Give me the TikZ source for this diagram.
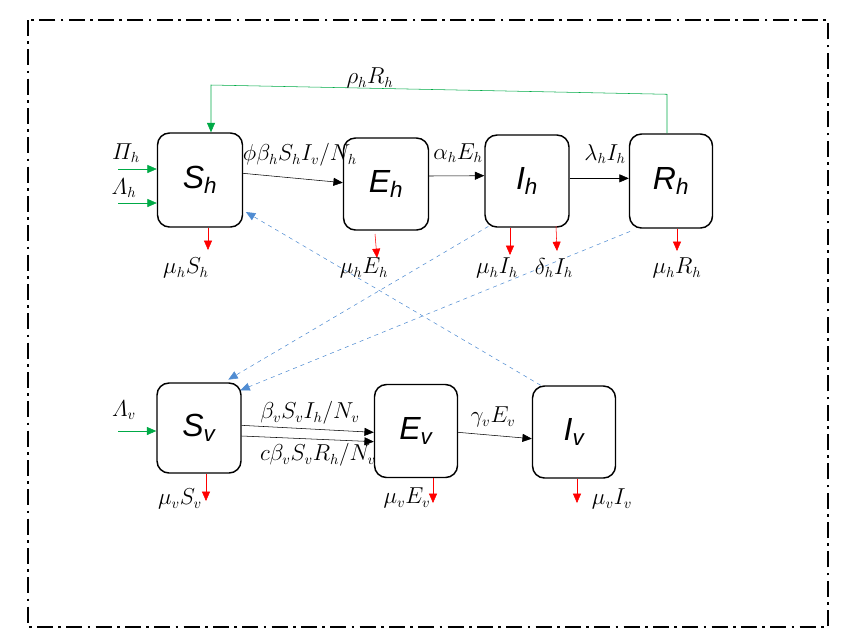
\documentclass[tikz,border=0pt]{standalone}
\usepackage{amsmath}
\usepackage{fontspec}
\newfontfamily\boxfont{Liberation Sans}
\usetikzlibrary{positioning,arrows.meta,calc}
\definecolor{mygreen}{RGB}{0,170,70}
\definecolor{myred}{RGB}{255,0,0}
\definecolor{myblue}{RGB}{80,140,210}

\begin{document}
\begin{tikzpicture}[x=0.75pt,y=-0.75pt,
  comp/.style={draw,line width=1.1pt,rounded corners=9pt,inner sep=0pt,
    font=\boxfont\fontsize{24}{28}\selectfont\itshape},
  lbl/.style={font=\fontsize{16}{18}\selectfont},
  flow/.style={-{Triangle[length=7pt,width=6pt]}},
  inflow/.style={flow,mygreen},
  death/.style={flow,myred},
  bite/.style={-{Triangle[length=7pt,width=6pt]},myblue,dashed}]

  \useasboundingbox (0,0) rectangle (845,637);
  \draw[line width=1.5pt,dash pattern=on 12pt off 4pt on 2pt off 4pt] (28,20) rectangle (828,627);

  % host compartments
  \node[comp,minimum width=85*0.75pt,minimum height=94*0.75pt] (Sh) at (200,180) {S\textsubscript{h}};
  \node[comp,minimum width=85*0.75pt,minimum height=92*0.75pt] (Eh) at (386,184) {E\textsubscript{h}};
  \node[comp,minimum width=84*0.75pt,minimum height=92*0.75pt] (Ih) at (527,181) {I\textsubscript{h}};
  \node[comp,minimum width=83*0.75pt,minimum height=94*0.75pt] (Rh) at (671,181) {R\textsubscript{h}};

  % vector compartments
  \node[comp,minimum width=84*0.75pt,minimum height=90*0.75pt] (Sv) at (199,428) {S\textsubscript{v}};
  \node[comp,minimum width=83*0.75pt,minimum height=93*0.75pt] (Ev) at (416,431) {E\textsubscript{v}};
  \node[comp,minimum width=83*0.75pt,minimum height=92*0.75pt] (Iv) at (574,432) {I\textsubscript{v}};

  % free ends
  \coordinate (PIh) at (118,169);
  \coordinate (LAh) at (118,203);
  \coordinate (LAv) at (118,431);
  \coordinate (dSh) at (208,250);
  \coordinate (dEh) at (377,258);
  \coordinate (dIh) at (510,255);
  \coordinate (gIh) at (557,251);
  \coordinate (dRh) at (677,251);
  \coordinate (dSv) at (206,501);
  \coordinate (dEv) at (433,503);
  \coordinate (dIv) at (577,503);

  % host flows
  \draw[flow] ([yshift=5pt]Sh.east) -- ([yshift=1pt]Eh.west);
  \draw[flow] ([yshift=6pt]Eh.east) -- ([yshift=4pt]Ih.west);
  \draw[flow] ([yshift=2pt]Ih.east) -- ([yshift=2pt]Rh.west);
  \draw[mygreen,-{Triangle[length=7pt,width=6pt]}] ([xshift=-3pt]Rh.north) -- ++(0,-39) -- (211,85) -- (Sh.north -| 211,85);
  \draw[inflow] (PIh) -- (PIh -| Sh.west);
  \draw[inflow] (LAh) -- (LAh -| Sh.west);
  \draw[death] (Sh.south -| dSh) -- (dSh);
  \draw[death] (375,234) -- (dEh);
  \draw[death] (Ih.south -| dIh) -- (dIh);
  \draw[death] (556,226) -- (gIh);
  \draw[death] (Rh.south -| dRh) -- (dRh);

  % vector flows
  \draw[flow] ([yshift=2pt]Sv.east) -- ([yshift=-1pt]Ev.west);
  \draw[flow] ([yshift=-6pt]Sv.east) -- ([yshift=-8pt]Ev.west);
  \draw[flow] ([yshift=-1pt]Ev.east) -- ([yshift=-5pt]Iv.west);
  \draw[inflow] (LAv) -- (LAv -| Sv.west);
  \draw[death] (Sv.south -| dSv) -- (dSv);
  \draw[death] (Ev.south -| dEv) -- (dEv);
  \draw[death] (Iv.south -| dIv) -- (dIv);

  % transmission
  \draw[bite] ([xshift=-25pt]Iv.north) -- ([yshift=-24pt,xshift=2pt]Sh.east);
  \draw[bite] ([xshift=-29pt,yshift=1pt]Ih.south) -- ([xshift=22pt,yshift=2pt]Sv.north);
  \draw[bite] ([xshift=1pt,yshift=-2pt]Rh.south west) -- ([xshift=-1pt,yshift=-6pt]Sv.north east);

  % labels
  \node[lbl] at (370,78) {$\rho_h R_h$};
  \node[lbl] at (300,155) {$\phi\beta_h S_h I_v/N_h$};
  \node[lbl] at (458,153) {$\alpha_h E_h$};
  \node[lbl] at (605,154) {$\lambda_h I_h$};
  \node[lbl] at (126,153) {$\varPi_h$};
  \node[lbl] at (124,188) {$\varLambda_h$};
  \node[lbl] at (186,268) {$\mu_h S_h$};
  \node[lbl] at (364,268) {$\mu_h E_h$};
  \node[lbl] at (497,268) {$\mu_h I_h$};
  \node[lbl] at (554,268) {$\delta_h I_h$};
  \node[lbl] at (677,268) {$\mu_h R_h$};
  \node[lbl] at (310,413) {$\beta_v S_v I_h/N_v$};
  \node[lbl] at (318,455) {$c\beta_v S_v R_h/N_v$};
  \node[lbl] at (493,417) {$\gamma_v E_v$};
  \node[lbl] at (124,410) {$\varLambda_v$};
  \node[lbl] at (180,499) {$\mu_v S_v$};
  \node[lbl] at (407,498) {$\mu_v E_v$};
  \node[lbl] at (612,499) {$\mu_v I_v$};
\end{tikzpicture}
\end{document}
